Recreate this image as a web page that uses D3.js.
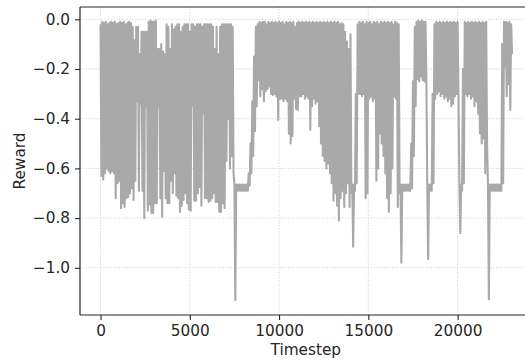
<!DOCTYPE html>
<html>
<head>
<meta charset="utf-8">
<script src="https://cdn.jsdelivr.net/npm/d3@7"></script>
<style>
  body { margin: 0; background: #fff; }
  svg { display: block; }
  text { font-family: "DejaVu Sans", sans-serif; }
</style>
</head>
<body>
<svg id="chart" width="525" height="361"></svg>
<script>
// Reward per timestep, summarised in bins of 100 steps:
// the trace swings between the bin's high and low reward.
const stepsPerBin = 100;

const highs = [
  -0.02, -0.01, -0.015, -0.01, -0.02, -0.015, -0.01, -0.015, -0.01, -0.02,
  -0.015, -0.01, -0.015, -0.01, -0.02, -0.015, -0.01, -0.015, -0.03, -0.085,
  -0.03, -0.03, -0.14, -0.05, -0.05, -0.05, -0.05, -0.01, -0.005, -0.01,
  -0.01, -0.005, -0.12, -0.12, -0.10, -0.13, -0.14, -0.02, -0.03, -0.12,
  -0.02, -0.04, -0.03, -0.02, -0.02, -0.05, -0.03, -0.02, -0.02, -0.02,
  -0.05, -0.02, -0.02, -0.03, -0.02, -0.02, -0.02, -0.03, -0.02, -0.02,
  -0.02, -0.02, -0.02, -0.03, -0.12, -0.03, -0.14, -0.03, -0.02, -0.02,
  -0.02, -0.02, -0.02, -0.02, -0.03,
  -0.665,
  -0.665, -0.665, -0.665, -0.665, -0.665, -0.665, -0.665,
  -0.62, -0.50, -0.33, -0.15, -0.03,
  -0.02, -0.01, -0.015, -0.01, -0.01, -0.02, -0.01, -0.015, -0.01, -0.015, -0.01, -0.015,
  -0.01, -0.015, -0.01, -0.02, -0.01, -0.015, -0.01, -0.015, -0.01, -0.03,
  -0.015, -0.01, -0.015, -0.01, -0.015, -0.01, -0.015, -0.01, -0.015, -0.01,
  -0.015, -0.01, -0.015, -0.01, -0.015, -0.01, -0.015, -0.01, -0.015, -0.01,
  -0.015, -0.01, -0.015, -0.01, -0.02, -0.015, -0.02, -0.05, -0.09, -0.12, -0.06,
  -0.665,
  -0.665,
  -0.30,
  -0.02, -0.01, -0.015, -0.01, -0.02, -0.01, -0.015, -0.01, -0.02, -0.01, -0.015, -0.01,
  -0.02, -0.01, -0.015, -0.01, -0.015, -0.01, -0.015, -0.01, -0.02, -0.01, -0.015, -0.02,
  -0.665,
  -0.665, -0.665, -0.665, -0.665, -0.665,
  -0.50, -0.25, -0.03,
  -0.01, -0.005, -0.01, -0.005, -0.01, -0.01,
  -0.665,
  -0.665, -0.665,
  -0.30,
  -0.02, -0.01, -0.015, -0.01, -0.015, -0.01, -0.015, -0.01, -0.015, -0.01, -0.015, -0.01, -0.015, -0.01,
  -0.665,
  -0.665,
  -0.20,
  -0.01, -0.015, -0.01, -0.015, -0.01, -0.015, -0.01, -0.015, -0.01, -0.015, -0.01, -0.015, -0.01,
  -0.665,
  -0.665, -0.665, -0.665, -0.665, -0.665, -0.665, -0.665,
  -0.10,
  -0.01, -0.01, -0.015, -0.01, -0.02
];

const lows = [
  -0.63, -0.645, -0.62, -0.60, -0.61, -0.62, -0.61, -0.62, -0.72, -0.66,
  -0.65, -0.76, -0.74, -0.755, -0.72, -0.715, -0.70, -0.68, -0.727, -0.65,
  -0.33, -0.69, -0.34, -0.69, -0.80, -0.35, -0.77, -0.745, -0.78, -0.78,
  -0.74, -0.74, -0.35, -0.72, -0.795, -0.61, -0.72, -0.74, -0.74, -0.65,
  -0.70, -0.62, -0.71, -0.72, -0.775, -0.75, -0.727, -0.70, -0.74, -0.765,
  -0.77, -0.35, -0.73, -0.73, -0.70, -0.675, -0.75, -0.38, -0.72, -0.72,
  -0.735, -0.73, -0.72, -0.70, -0.735, -0.735, -0.775, -0.775, -0.74, -0.76,
  -0.57, -0.40, -0.60, -0.55, -0.62,
  -1.13,
  -0.69, -0.69, -0.69, -0.69, -0.69, -0.69, -0.69,
  -0.67, -0.62, -0.55, -0.45, -0.35,
  -0.245, -0.31, -0.28, -0.33, -0.29, -0.28, -0.27, -0.30, -0.305, -0.30, -0.31, -0.405,
  -0.32, -0.32, -0.33, -0.32, -0.33, -0.46, -0.50, -0.47, -0.32, -0.36,
  -0.365, -0.31, -0.31, -0.30, -0.32, -0.31, -0.32, -0.445, -0.35, -0.32,
  -0.34, -0.33, -0.43, -0.50, -0.55, -0.57, -0.60, -0.58, -0.62, -0.66,
  -0.73, -0.70, -0.75, -0.81, -0.72, -0.69, -0.755, -0.70, -0.66, -0.755, -0.70,
  -0.915,
  -0.69,
  -0.66,
  -0.30, -0.30, -0.31, -0.30, -0.72, -0.70, -0.32, -0.31, -0.33, -0.32, -0.65, -0.60,
  -0.46, -0.50, -0.55, -0.62, -0.72, -0.775, -0.70, -0.60, -0.31, -0.32, -0.755, -0.70,
  -0.98,
  -0.69, -0.69, -0.69, -0.69, -0.69,
  -0.68, -0.55, -0.35,
  -0.24, -0.25, -0.23, -0.245, -0.25, -0.24,
  -0.965,
  -0.69, -0.69,
  -0.66,
  -0.32, -0.30, -0.29, -0.31, -0.30, -0.32, -0.31, -0.33, -0.32, -0.35, -0.34, -0.31, -0.30, -0.31,
  -0.86,
  -0.69,
  -0.66,
  -0.30, -0.31, -0.30, -0.32, -0.31, -0.35, -0.33, -0.38, -0.46, -0.50, -0.48, -0.62, -0.50,
  -1.127,
  -0.69, -0.69, -0.69, -0.69, -0.69, -0.69, -0.69,
  -0.66,
  -0.19, -0.31, -0.26, -0.365, -0.14
];

const xTickValues = [0, 5000, 10000, 15000, 20000];
const yTickValues = [0.0, -0.2, -0.4, -0.6, -0.8, -1.0];
const xTitle = "Timestep";
const yTitle = "Reward";

// Trace vertices: high at the start of each bin, low half a bin later.
const trace = [];
highs.forEach((h, i) => {
  trace.push({ t: i * stepsPerBin, v: h });
  trace.push({ t: i * stepsPerBin + stepsPerBin / 2, v: lows[i] });
});

const svg = d3.select("#chart");
const plot = { left: 80, right: 532.6, top: 7, bottom: 315 };

const x = d3.scaleLinear().domain([-1150, 24200]).range([plot.left, plot.right]);
const y = d3.scaleLinear().domain([-1.19, 0.0495]).range([plot.bottom, plot.top]);

svg.append("defs").append("clipPath").attr("id", "plot-clip")
  .append("rect")
  .attr("x", plot.left).attr("y", plot.top)
  .attr("width", plot.right - plot.left).attr("height", plot.bottom - plot.top);

// dotted grid
const grid = svg.append("g").attr("stroke", "#c4c4c4").attr("stroke-width", 0.8)
  .attr("stroke-dasharray", "1,1.6");
grid.selectAll("line.gx").data(xTickValues).join("line")
  .attr("x1", d => x(d)).attr("x2", d => x(d))
  .attr("y1", plot.top).attr("y2", plot.bottom);
grid.selectAll("line.gy").data(yTickValues).join("line")
  .attr("x1", plot.left).attr("x2", plot.right)
  .attr("y1", d => y(d)).attr("y2", d => y(d));

// reward trace
const line = d3.line().x(d => x(d.t)).y(d => y(d.v));
svg.append("path")
  .datum(trace)
  .attr("clip-path", "url(#plot-clip)")
  .attr("fill", "none")
  .attr("stroke", "#a9a9a9")
  .attr("stroke-width", 2.1)
  .attr("stroke-linejoin", "round")
  .attr("d", line);

// axes
const fontSize = "15.3px";
const xAxis = svg.append("g").attr("transform", `translate(0,${plot.bottom})`)
  .call(d3.axisBottom(x).tickValues(xTickValues).tickFormat(d3.format("d"))
    .tickSize(5).tickPadding(5));
const yAxis = svg.append("g").attr("transform", `translate(${plot.left},0)`)
  .call(d3.axisLeft(y).tickValues(yTickValues).tickFormat(d3.format(".1f"))
    .tickSize(5).tickPadding(5));
[xAxis, yAxis].forEach(g => {
  g.select(".domain").remove();
  g.selectAll(".tick line").attr("stroke", "#262626").attr("stroke-width", 1.1);
  g.selectAll(".tick text").attr("fill", "#262626")
    .style("font-size", fontSize).style("font-family", '"DejaVu Sans", sans-serif');
});

// spines
const spine = svg.append("g").attr("stroke", "#262626").attr("stroke-width", 1.2);
spine.append("line").attr("x1", plot.left).attr("x2", plot.left).attr("y1", plot.top).attr("y2", plot.bottom);
spine.append("line").attr("x1", plot.left).attr("x2", plot.right).attr("y1", plot.bottom).attr("y2", plot.bottom);
spine.append("line").attr("x1", plot.left).attr("x2", plot.right).attr("y1", plot.top).attr("y2", plot.top);
spine.append("line").attr("x1", plot.right).attr("x2", plot.right).attr("y1", plot.top).attr("y2", plot.bottom);

// axis titles
svg.append("text")
  .attr("x", (plot.left + plot.right) / 2 - 0.5 - 0 ).attr("y", 355)
  .attr("text-anchor", "middle").attr("fill", "#262626")
  .style("font-size", fontSize)
  .text(xTitle);
svg.append("text")
  .attr("transform", `translate(25,${(plot.top + plot.bottom) / 2}) rotate(-90)`)
  .attr("text-anchor", "middle").attr("fill", "#262626")
  .style("font-size", fontSize)
  .text(yTitle);
</script>
</body>
</html>
